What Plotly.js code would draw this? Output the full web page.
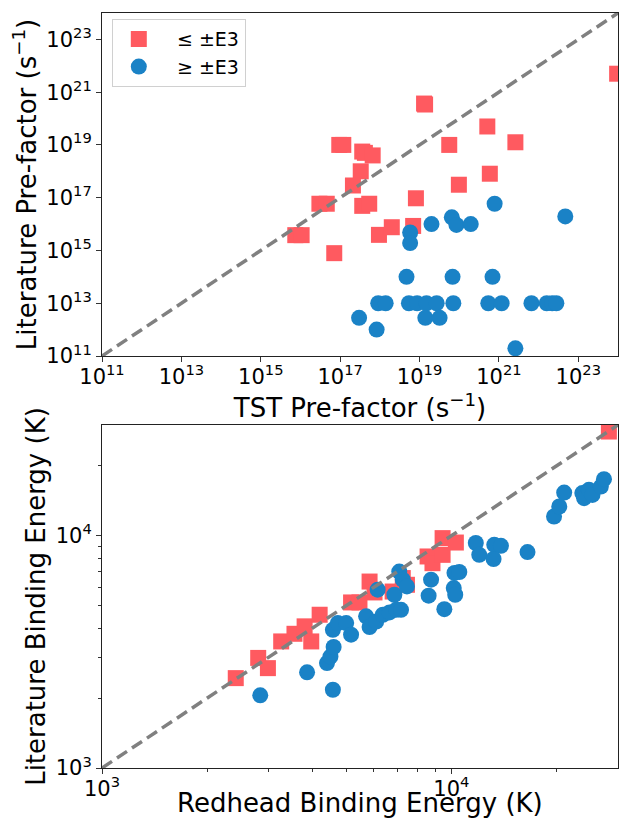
<!DOCTYPE html>
<html>
<head>
<meta charset="utf-8">
<script src="https://cdn.plot.ly/plotly-3.0.1.min.js"></script>
<style>
html,body{margin:0;padding:0;overflow:hidden;background:#fff;}
#chart{width:619px;height:830px;}
</style>
</head>
<body>
<div id="chart"></div>
<script>
// ---- Top panel: pre-factors (s^-1) ----
const tstLow = [9.5e23, 1.3e19, 1.38e19, 5.1e20, 9.5e16, 1.2e17, 5.6e19, 2.6e21, 3.6e17, 4.2e17, 6.6e17, 3.3e17, 2.1e17, 5.9e20, 9.8e19, 3.0e16, 4.6e16, 3.6e17, 5.4e17, 8.1e18, 7.4e15, 1.07e16, 7.1e16, 9.5e17, 2.0e18, 6.9e18];
const litLow = [5.0e21, 3.7e20, 3.4e20, 5.0e19, 1.0e19, 1.0e19, 1.0e19, 1.26e19, 5.6e18, 5.0e18, 4.0e18, 1.0e18, 2.9e17, 8.1e17, 3.1e17, 5.9e16, 5.9e16, 4.9e16, 5.9e16, 9.5e16, 3.8e15, 3.8e15, 7.9e14, 3.9e15, 7.6e15, 8.5e15];

const tstHigh = [7.8e20, 4.7e22, 2.0e19, 6.5e19, 8.5e19, 1.95e20, 5.8e18, 5.8e18, 4.7e18, 6.8e19, 6.9e20,
  9.1e17, 1.4e18, 5.4e18, 8.7e18, 1.5e19, 2.7e19, 7.1e19, 5.4e20, 1.17e21, 6.6e21, 1.6e22, 2.2e22, 2.8e22,
  3.0e17, 8.3e17, 1.4e19, 3.2e19, 2.6e21];
const litHigh = [5.9e16, 1.95e16, 1.0e16, 1.8e16, 9.3e15, 1.0e16, 4.8e15, 1.9e15, 1e14, 1e14, 1e14,
  1e13, 1e13, 1e13, 1e13, 1e13, 1e13, 1e13, 1e13, 1e13, 1e13, 1e13, 1e13, 1e13,
  2.8e12, 1.0e12, 2.8e12, 2.8e12, 1.95e11];

const prefRange = [1e11, 1e24];
const prefTicks = [1e11, 1e13, 1e15, 1e17, 1e19, 1e21, 1e23];
const prefTickText = ["10<sup>11</sup>", "10<sup>13</sup>", "10<sup>15</sup>", "10<sup>17</sup>", "10<sup>19</sup>", "10<sup>21</sup>", "10<sup>23</sup>"];

// ---- Bottom panel: binding energies (K) ----
const redLow = [28250, 2415, 2800, 2985, 3258, 3556, 3802, 3972, 4198, 5164, 5458, 5834, 6026, 6792, 7261, 7464, 8551, 8831, 9441, 9441, 10304];
const litELow = [28120, 2438, 2979, 2692, 3508, 3784, 4074, 3508, 4571, 5164, 5164, 6353, 5702, 5754, 6577, 6152, 8147, 7621, 9772, 8279, 9354];

const redHigh = [2838, 3864, 4581, 4406, 4508, 4603, 4581, 4732, 5000, 5164, 5702, 5834, 6095, 6368, 6653, 6950, 7178,
  6152, 6871, 7096, 7261, 7464, 8610, 8750, 9550, 10160, 10260, 10210, 10540, 11750, 12020, 13270, 13870, 13210, 16520,
  19680, 20370, 21040, 23710, 23990, 24770, 25350, 26790, 27350];
const litEHigh = [2056, 2582, 2173, 2831, 3020, 3319, 3936, 4207, 4207, 3750, 4498, 4046, 4276, 4571, 4677, 4797, 4797,
  5861, 5572, 7015, 6471, 6053, 5521, 6471, 4831, 5957, 5572, 6918, 6982, 9311, 8279, 9141, 9057, 7943, 8511,
  12110, 13370, 15350, 15280, 14520, 15780, 15000, 16290, 17540];

const energyRange = [1e3, 3e4];
const energyTicks = [1e3, 1e4];
const energyTickText = ["10<sup>3</sup>", "10<sup>4</sup>"];
const energyMinor = [2000, 3000, 4000, 5000, 6000, 7000, 8000, 9000, 20000];

const RED = '#ff5a60';
const BLUE = '#1a82c6';
const FONT = 'DejaVu Sans, sans-serif';

const traces = [
  {x: tstLow, y: litLow, xaxis: 'x', yaxis: 'y', mode: 'markers', type: 'scatter', name: '\u00a0\u00a0\u00a0≤ ±E3',
   marker: {symbol: 'square', size: 16, color: RED, line: {width: 0}}},
  {x: tstHigh, y: litHigh, xaxis: 'x', yaxis: 'y', mode: 'markers', type: 'scatter', name: '\u00a0\u00a0\u00a0≥ ±E3',
   marker: {symbol: 'circle', size: 16, color: BLUE, line: {width: 0}}},
  {x: prefRange, y: prefRange, xaxis: 'x', yaxis: 'y', mode: 'lines', type: 'scatter', showlegend: false,
   line: {color: '#808080', width: 3.5, dash: '12px,6px'}},
  {x: redLow, y: litELow, xaxis: 'x2', yaxis: 'y2', mode: 'markers', type: 'scatter', showlegend: false,
   marker: {symbol: 'square', size: 16, color: RED, line: {width: 0}}},
  {x: redHigh, y: litEHigh, xaxis: 'x2', yaxis: 'y2', mode: 'markers', type: 'scatter', showlegend: false,
   marker: {symbol: 'circle', size: 16, color: BLUE, line: {width: 0}}},
  {x: energyRange, y: energyRange, xaxis: 'x2', yaxis: 'y2', mode: 'lines', type: 'scatter', showlegend: false,
   line: {color: '#808080', width: 3.5, dash: '12px,6px'}}
];

function logAxis(range, tv, tt, domain, anchor, title, standoff, extra) {
  return Object.assign({
    type: 'log', range: [Math.log10(range[0]), Math.log10(range[1])], domain: domain, anchor: anchor,
    tickmode: 'array', tickvals: tv, ticktext: tt,
    ticks: 'outside', ticklen: 5, tickwidth: 1, tickcolor: '#333',
    showline: true, linecolor: '#222', linewidth: 1, mirror: true,
    showgrid: false, zeroline: false,
    tickfont: {family: FONT, size: 21, color: '#000'},
    title: {text: title, standoff: standoff, font: {family: FONT, size: 26, color: '#000'}}
  }, extra || {});
}

const minorSpec = {tickmode: 'array', tickvals: energyMinor, ticks: 'outside', ticklen: 3, tickwidth: 1, tickcolor: '#333', showgrid: false};

const layout = {
  width: 619, height: 830,
  margin: {l: 102, r: 1, t: 13, b: 62},
  paper_bgcolor: '#fff', plot_bgcolor: '#fff',
  font: {family: FONT, color: '#000'},
  showlegend: true,
  legend: {x: 0.019, y: 0.992, xanchor: 'left', yanchor: 'top', indentation: 6,
    bgcolor: '#fff', bordercolor: '#d0d0d0', borderwidth: 1,
    font: {family: FONT, size: 19, color: '#000'}, tracegroupgap: 0},
  xaxis: logAxis(prefRange, prefTicks, prefTickText, [0, 1], 'y', 'TST Pre-factor (s<sup>−1</sup>)', 3, {ticklabelstandoff: -3}),
  yaxis: logAxis(prefRange, prefTicks, prefTickText, [0.5457, 1], 'x', 'Literature Pre-factor (s<sup>−1</sup>)', 2),
  xaxis2: logAxis(energyRange, energyTicks, energyTickText, [0, 1], 'y2', '', 0, {minor: minorSpec, ticklabelstandoff: -3}),
  yaxis2: logAxis(energyRange, energyTicks, energyTickText, [0, 0.4543], 'x2', 'Literature Binding Energy (K)', 2, {minor: minorSpec}),
  annotations: [
    {text: 'Redhead Binding Energy (K)', xref: 'paper', yref: 'paper', x: 0.5, y: -0.047,
     xanchor: 'center', yanchor: 'middle', showarrow: false,
     font: {family: FONT, size: 26, color: '#000'}}
  ]
};

Plotly.newPlot('chart', traces, layout, {staticPlot: true, displayModeBar: false});
</script>
</body>
</html>
